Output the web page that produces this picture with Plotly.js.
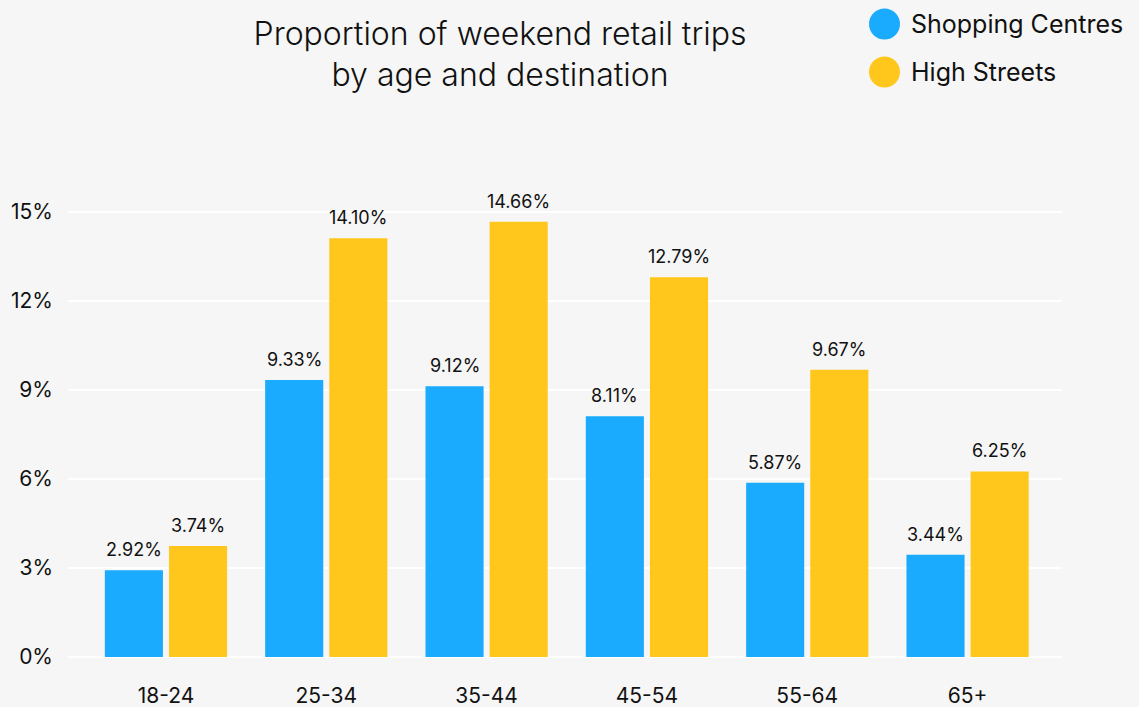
<!DOCTYPE html>
<html>
<head>
<meta charset="utf-8">
<script src="https://cdn.plot.ly/plotly-3.0.1.min.js"></script>
<style>html,body{margin:0;padding:0;background:#f6f6f6;}#chart{width:1139px;height:707px;}</style>
</head>
<body>
<div id="chart"></div>
<script>
const ageGroups = ['18-24', '25-34', '35-44', '45-54', '55-64', '65+'];
const shoppingCentres = [2.92, 9.33, 9.12, 8.11, 5.87, 3.44];
const highStreets = [3.74, 14.10, 14.66, 12.79, 9.67, 6.25];
const seriesNames = ['Shopping Centres', 'High Streets'];
const yTicks = [0, 3, 6, 9, 12, 15];
const yTickLabels = ['0%', '3%', '6%', '9%', '12%', '15%'];

const blue = '#1AABFF';
const yellow = '#FFC61C';
const FONT = 'Inter, "Open Sans", sans-serif';

const common = {
  type: 'bar',
  x: ageGroups,
  showlegend: false,
  hoverinfo: 'x+y'
};

const data = [
  Object.assign({}, common, {name: seriesNames[0], y: shoppingCentres, marker: {color: blue}}),
  Object.assign({}, common, {name: seriesNames[1], y: highStreets, marker: {color: yellow}})
];

const layout = {
  width: 1139, height: 707,
  paper_bgcolor: '#f6f6f6', plot_bgcolor: '#f6f6f6',
  margin: {l: 68, r: 77, t: 167, b: 50},
  font: {family: FONT, color: '#111'},
  title: {
    text: 'Proportion of weekend retail trips<br>by age and destination',
    font: {family: FONT, size: 32, color: '#111', weight: 300},
    x: 0.439, xref: 'container', xanchor: 'center',
    y: 0.937, yref: 'container', yanchor: 'top'
  },
  barmode: 'group',
  bargap: 0.2,
  bargroupgap: 0.094,
  xaxis: {
    type: 'category',
    range: [-0.611, 5.589],
    showgrid: false, zeroline: false, showline: false, ticks: '',
    tickfont: {family: FONT, size: 21, color: '#111'},
    ticklabelstandoff: 24
  },
  yaxis: {
    range: [0, 16.5],
    tickmode: 'array',
    tickvals: yTicks,
    ticktext: yTickLabels,
    showgrid: true, gridcolor: '#ffffff', gridwidth: 2,
    zeroline: true, zerolinecolor: '#ffffff', zerolinewidth: 2,
    showline: false, ticks: '',
    tickfont: {family: FONT, size: 21, color: '#111'},
    ticklabelstandoff: 14
  },
  shapes: [],
  annotations: []
};

// value labels above each bar
[[shoppingCentres, -32], [highStreets, 32]].forEach(([vals, shift]) => {
  vals.forEach((v, i) => {
    layout.annotations.push({
      x: ageGroups[i], y: v, xref: 'x', yref: 'y',
      xshift: shift, yshift: 8, xanchor: 'center', yanchor: 'bottom',
      showarrow: false, text: v.toFixed(2) + '%',
      font: {family: FONT, size: 18, color: '#111'}
    });
  });
});

// Legend drawn as shapes/annotations in pixel-derived paper coordinates
const plotW = 1139 - 68 - 77, plotH = 707 - 167 - 50;
function px(x) { return (x - 68) / plotW; }
function py(y) { return (707 - 50 - y) / plotH; }
const legendItems = [
  {name: seriesNames[0], color: blue, cy: 24},
  {name: seriesNames[1], color: yellow, cy: 72}
];
legendItems.forEach(it => {
  layout.shapes.push({
    type: 'circle', xref: 'paper', yref: 'paper',
    x0: px(869), x1: px(900), y0: py(it.cy + 15.5), y1: py(it.cy - 15.5),
    fillcolor: it.color, line: {width: 0}
  });
  layout.annotations.push({
    xref: 'paper', yref: 'paper', x: px(909), y: py(it.cy),
    xanchor: 'left', yanchor: 'middle', showarrow: false,
    text: it.name, font: {family: FONT, size: 25, color: '#111'}
  });
});

Plotly.newPlot('chart', data, layout, {displayModeBar: false});
</script>
</body>
</html>
